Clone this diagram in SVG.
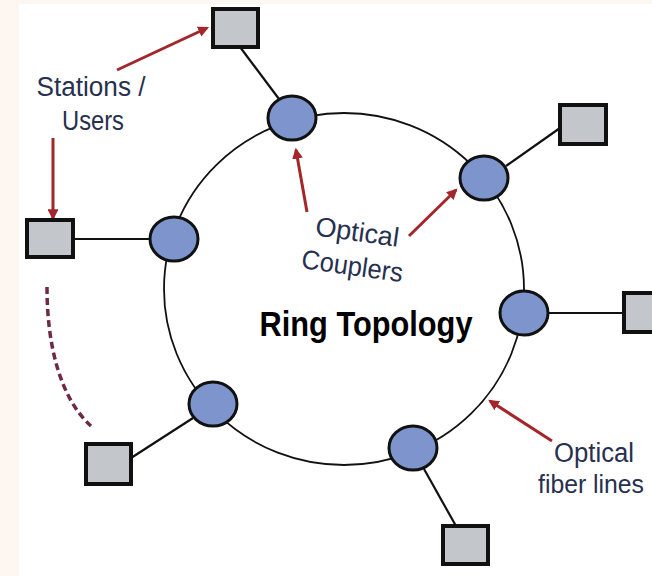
<svg xmlns="http://www.w3.org/2000/svg" width="652" height="576" viewBox="0 0 652 576">
<defs>
<style>
.lbl{font-family:"Liberation Sans",Arial,sans-serif;font-size:27px;fill:#27304f;text-anchor:middle}
.node ellipse{fill:#7d95cc;stroke:#111;stroke-width:3}
.stn rect{fill:#c3c7cc;stroke:#111;stroke-width:4}
.link{stroke:#111;stroke-width:2.2;fill:none}
.red{stroke:#a3262b;stroke-width:3;fill:none;marker-end:url(#ah)}
</style>
<marker id="ah" viewBox="0 0 10 10" refX="8" refY="5" markerWidth="3.6" markerHeight="3.6" orient="auto" markerUnits="strokeWidth">
<path d="M0,0 L10,5 L0,10 z" fill="#a3262b"/>
</marker>
</defs>
<rect width="652" height="576" fill="#fdf6f1"/>
<rect x="19" y="4" width="633" height="572" fill="#ffffff"/>

<g id="connectors">
<ellipse cx="344" cy="289" rx="180" ry="176" fill="none" stroke="#111" stroke-width="1.8"/>
<line class="link" x1="240" y1="47" x2="279" y2="99"/>
<line class="link" x1="73" y1="239" x2="150" y2="239"/>
<line class="link" x1="506" y1="166" x2="560" y2="128"/>
<line class="link" x1="548" y1="313" x2="624" y2="313"/>
<line class="link" x1="424" y1="469" x2="456" y2="526"/>
<line class="link" x1="131" y1="458" x2="193" y2="418"/>
<line class="red" x1="117" y1="70" x2="207" y2="28"/>
<line class="red" x1="53" y1="138" x2="53" y2="218"/>
<line class="red" x1="307" y1="212" x2="296" y2="150"/>
<line class="red" x1="409" y1="236" x2="456" y2="190"/>
<line class="red" x1="552" y1="441" x2="490" y2="401"/>
<path d="M47,287 C47,345 60,398 91,426" fill="none" stroke="#6e2a44" stroke-width="3.5" stroke-dasharray="7 4"/>
</g>

<g id="station-top" class="stn"><rect x="213" y="9" width="45" height="38"/></g>
<g id="station-left" class="stn"><rect x="27" y="220" width="46" height="37"/></g>
<g id="station-upper-right" class="stn"><rect x="560" y="105" width="46" height="39"/></g>
<g id="station-right" class="stn"><rect x="624" y="293" width="46" height="39"/></g>
<g id="station-bottom-right" class="stn"><rect x="443" y="526" width="45" height="38"/></g>
<g id="station-bottom-left" class="stn"><rect x="86" y="444" width="45" height="40"/></g>

<g id="coupler-top" class="node"><ellipse cx="292" cy="118" rx="24" ry="22"/></g>
<g id="coupler-left" class="node"><ellipse cx="174" cy="239" rx="24" ry="22"/></g>
<g id="coupler-upper-right" class="node"><ellipse cx="484" cy="178" rx="24" ry="22"/></g>
<g id="coupler-right" class="node"><ellipse cx="524" cy="313" rx="24" ry="22"/></g>
<g id="coupler-bottom-right" class="node"><ellipse cx="413" cy="448" rx="24" ry="22"/></g>
<g id="coupler-bottom-left" class="node"><ellipse cx="213" cy="404" rx="24" ry="22"/></g>

<g id="labels">
<text class="lbl" x="91" y="96" textLength="109" lengthAdjust="spacingAndGlyphs">Stations /</text>
<text class="lbl" x="93" y="130" textLength="62" lengthAdjust="spacingAndGlyphs">Users</text>
<text class="lbl" x="356" y="241" transform="rotate(8 356 241)" textLength="84" lengthAdjust="spacingAndGlyphs">Optical</text>
<text class="lbl" x="351" y="275" transform="rotate(8 351 275)" textLength="102" lengthAdjust="spacingAndGlyphs">Couplers</text>
<text class="lbl" x="594" y="462" textLength="80" lengthAdjust="spacingAndGlyphs">Optical</text>
<text class="lbl" x="538" y="493" style="text-anchor:start;font-size:25px" textLength="106" lengthAdjust="spacingAndGlyphs">fiber lines</text>
<text x="366" y="336" font-family="'Liberation Sans',Arial,sans-serif" font-weight="bold" font-size="35" fill="#000" text-anchor="middle" textLength="213" lengthAdjust="spacingAndGlyphs">Ring Topology</text>
</g>
</svg>
